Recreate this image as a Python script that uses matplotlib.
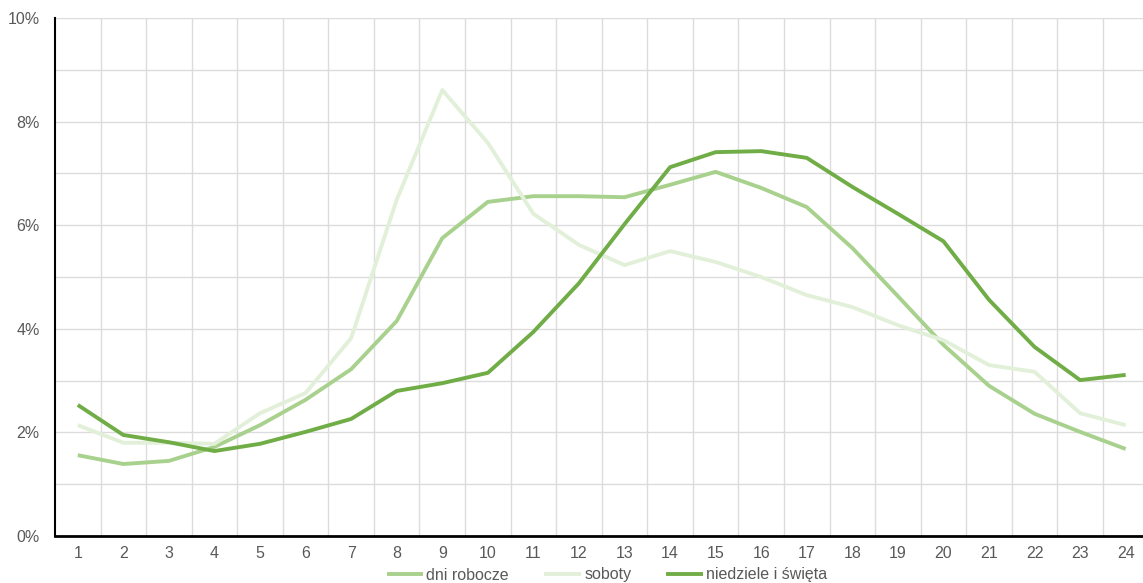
import numpy as np
import matplotlib.pyplot as plt
from matplotlib.ticker import FuncFormatter, MultipleLocator

# godziny 1-24
godziny = list(range(1, 25))

# udział ruchu w danej godzinie [%]
dni_robocze = [1.56, 1.39, 1.45, 1.72, 2.14, 2.63, 3.22, 4.15, 5.75, 6.45, 6.56, 6.56,
               6.54, 6.78, 7.03, 6.72, 6.35, 5.56, 4.63, 3.69, 2.90, 2.36, 2.01, 1.68]
soboty = [2.14, 1.80, 1.80, 1.78, 2.37, 2.76, 3.82, 6.49, 8.61, 7.59, 6.22, 5.62,
          5.23, 5.50, 5.29, 5.00, 4.65, 4.42, 4.07, 3.78, 3.30, 3.17, 2.37, 2.14]
niedziele = [2.53, 1.95, 1.81, 1.64, 1.78, 2.01, 2.26, 2.80, 2.95, 3.15, 3.94, 4.88,
             6.02, 7.12, 7.41, 7.43, 7.30, 6.74, 6.22, 5.69, 4.56, 3.65, 3.01, 3.11]

plt.rcParams['font.family'] = ['Liberation Sans', 'DejaVu Sans']

W, H = 1143, 583
fig = plt.figure(figsize=(W / 100, H / 100), dpi=100)
ax = fig.add_axes([55 / W, (H - 536) / H, (1143 - 55) / W, (536 - 18) / H])

lw = 2.8
ax.plot(godziny, dni_robocze, color='#a9d18e', lw=lw, label='dni robocze', solid_capstyle='butt')
ax.plot(godziny, soboty, color='#e2f0d9', lw=lw, label='soboty', solid_capstyle='butt')
ax.plot(godziny, niedziele, color='#70ad47', lw=lw, label='niedziele i święta', solid_capstyle='butt')

ax.set_xlim(0.5, 24.38)
ax.set_ylim(0, 10)

ax.set_xticks(godziny)
ax.set_xticks(np.arange(1.5, 24.5, 1), minor=True)
ax.yaxis.set_major_locator(MultipleLocator(2))
ax.yaxis.set_minor_locator(MultipleLocator(1))
ax.yaxis.set_major_formatter(FuncFormatter(lambda v, p: f'{v:.0f}%'))

ax.grid(True, which='minor', axis='x', color='#dcdcdc', lw=1)
ax.grid(True, which='both', axis='y', color='#dcdcdc', lw=1)
ax.set_axisbelow(True)

ax.tick_params(which='both', length=0, labelsize=11.5, colors='#595959')
ax.tick_params(axis='y', pad=11)
ax.tick_params(axis='x', pad=7)

for s in ['top', 'right']:
    ax.spines[s].set_visible(False)
ax.spines['left'].set_linewidth(1.5)
ax.spines['bottom'].set_linewidth(2)
ax.spines['left'].set_color('black')
ax.spines['bottom'].set_color('black')

fig.legend(loc='center', bbox_to_anchor=(607 / W, 1 - 575 / H), ncol=3, frameon=False,
           fontsize=11.5, handlelength=2.3, handletextpad=0.2, columnspacing=2.2,
           labelcolor='#595959')

fig.savefig('out.png', dpi=100)
